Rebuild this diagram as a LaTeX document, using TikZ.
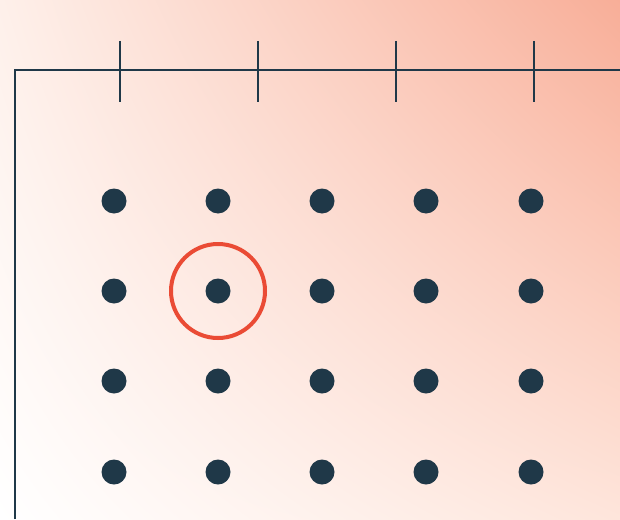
\documentclass[tikz,border=0pt]{standalone}
\usetikzlibrary{shadings}
\begin{document}
\begin{tikzpicture}[x=1pt,y=-1pt,
  ink/.style={draw=inkc,line width=2.8pt},
  dot/.style={circle,fill=inkc,inner sep=0pt,minimum size=25pt},
  ring/.style={circle,draw=ringc,line width=4pt,inner sep=0pt,minimum size=94pt}]
\definecolor{inkc}{HTML}{1F3848}
\definecolor{ringc}{HTML}{EA4B35}
\definecolor{tr}{HTML}{F8AE98}
\definecolor{tl}{HTML}{FEF0EA}
\definecolor{br}{HTML}{FEE5DB}
\definecolor{bl}{HTML}{FFFFFF}
\useasboundingbox (0,0) rectangle (620,519);
\shade[upper right=tr,upper left=tl,lower right=br,lower left=bl] (0,0) rectangle (620,519);
\coordinate (frameBL) at (15,519);
\coordinate (frameTL) at (15,70);
\coordinate (frameTR) at (620,70);
\draw[ink] (frameBL) -- (frameTL) -- (frameTR);
\foreach \x [count=\i] in {120,258,396,534} {
  \coordinate (t\i a) at (\x,41);
  \coordinate (t\i b) at (\x,102);
  \draw[ink] (t\i a) -- (t\i b);
}
\foreach \y [count=\j] in {201,291,381,472} {
  \foreach \x [count=\i] in {114,218,322,426,531} {
    \node[dot] (d\i\j) at (\x,\y) {};
  }
}
\node[ring] (sel) at (d22) {};
\end{tikzpicture}
\end{document}
